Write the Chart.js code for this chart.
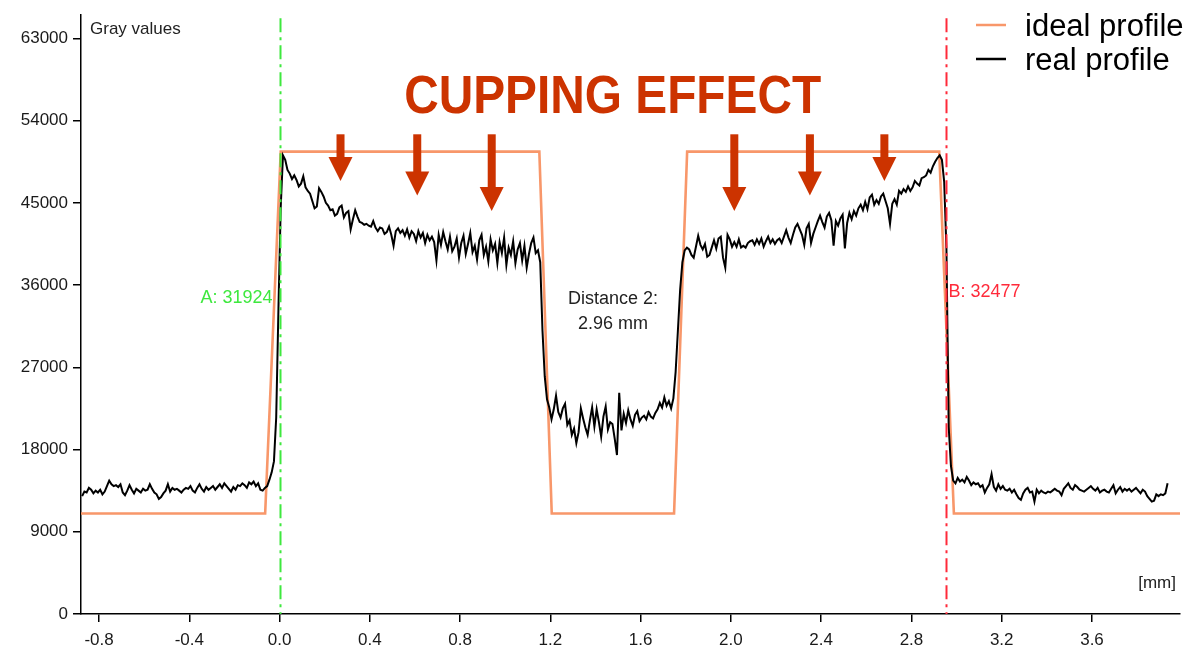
<!DOCTYPE html>
<html><head><meta charset="utf-8">
<script src="https://cdn.jsdelivr.net/npm/chart.js@4.4.1/dist/chart.umd.min.js"></script>
<style>html,body{margin:0;padding:0;background:#fff;}canvas{display:block;}</style>
</head><body>
<canvas id="c" width="1200" height="652"></canvas>
<script>
// ---- data ----
const xTicks = [-0.8, -0.4, 0.0, 0.4, 0.8, 1.2, 1.6, 2.0, 2.4, 2.8, 3.2, 3.6];
const yTicks = [0, 9000, 18000, 27000, 36000, 45000, 54000, 63000];
const seriesNames = ['ideal profile', 'real profile'];

const idealX = [-0.88, -0.064, 0.005, 1.151, 1.206, 1.748, 1.806, 2.923, 2.988, 3.99];
const idealY = [11000, 11000, 50600, 50600, 11000, 11000, 50600, 50600, 11000, 11000];

// real profile sampled every 0.01 mm starting at -0.875 mm
const realStart = -0.875;
const realStep = 0.01;
const realY = [
 12900,13400,13300,13800,13600,13200,13500,13300,13600,13100,
 13400,14000,14600,14200,14000,14100,13900,14200,13300,13000,
 13500,14100,13600,13200,13700,13500,13300,13700,13500,13600,
 14200,13700,13300,13100,12600,12800,13200,13500,14200,13400,
 13800,13600,13700,13500,13300,13600,13800,13700,14000,13500,
 13300,13800,14200,13700,13400,13900,13600,13800,14000,13600,
 13900,14200,13800,14300,14000,13700,13400,13900,13600,14100,
 14000,14300,14100,13800,14400,14200,14500,14000,14300,13600,
 13500,13800,14000,14700,15500,16700,21500,33500,44500,50200,
 49700,48600,48200,47600,48000,47500,46800,47100,47900,46700,
 46300,46000,45200,44400,44600,46600,46200,45700,45000,44700,
 44200,44300,43600,43800,44500,44700,43400,43900,44100,42100,
 43200,44200,43500,42900,42800,42600,42700,42500,42400,43000,
 42300,41900,42300,42200,41600,41800,42400,41500,40300,41900,
 42200,41700,42000,41400,42100,41200,41900,41600,40800,41900,
 41200,41700,40600,41500,40900,41300,40700,38700,41500,40400,
 41800,40800,39900,41300,39700,40200,41100,39000,40600,41400,
 39400,40500,41700,39600,40300,38800,40900,41500,39300,40200,
 38600,41000,39800,40500,38400,40700,39500,41200,38200,40100,
 39300,40800,38400,39900,40600,38700,40300,37900,39400,40600,
 41200,39500,39800,38500,31000,26000,23500,22600,21300,22400,
 23900,22100,21500,22500,23000,20700,21200,19600,20300,18700,
 19900,22500,21400,20400,19600,21200,22600,20500,22400,21000,
 19400,21600,22700,20200,21000,20800,19200,17400,24200,20100,
 21900,20900,22300,21300,20600,21800,22200,21100,21500,21700,
 21300,22100,21600,21400,22000,22400,23100,22600,23700,22800,
 23300,22500,23600,26500,31000,35500,38500,39800,40100,39900,
 39300,39000,40200,41400,40400,39900,40500,39100,39300,40100,
 40900,40000,41100,41300,39000,37900,41500,41000,40200,40700,
 40200,41000,40100,40300,40100,40600,40800,40900,40400,41000,
 40500,41100,40200,40800,41300,40600,41000,40500,40900,41100,
 40600,41300,42000,41200,40600,41500,42300,42700,42100,41500,
 40400,42200,42700,40600,41600,42300,43000,43600,42900,42300,
 43500,43900,43100,40300,43000,42500,43300,43700,40000,42800,
 43900,43200,44100,43600,44400,44800,44200,45100,44300,45600,
 45900,44800,45300,44900,45700,46000,45200,44400,42700,44900,
 45400,44800,46300,46000,46500,46200,46800,46300,46700,47400,
 47100,46900,47700,47800,48000,48600,48300,49000,49500,49900,
 50200,49700,47300,40000,20500,16200,14600,14300,14900,14500,
 14700,14400,15000,14600,14100,14400,14200,14300,13900,14100,
 13300,13800,14200,15300,13900,13500,14200,13700,14000,13600,
 13500,13700,13300,13600,13100,12700,12500,13200,13600,13800,
 13300,13400,12300,13600,13200,13500,13300,13200,13400,13300,
 13500,13700,13500,13400,13000,13700,14000,14300,13800,13600,
 14100,13900,13600,13500,13400,13600,13800,14000,13700,13500,
 13800,13300,13500,13600,13400,13300,13700,14100,13200,13600,
 13900,13400,13700,13500,13700,13400,13600,13800,13500,13200,
 13600,13400,12900,12600,12300,12400,13100,12900,13100,13000,
 13200,14300
];

// annotations (data coordinates)
const markerX = [0.0, 2.955];
const markerLabels = ['A: 31924', 'B: 32477'];
const markerLabelY = [34600, 35200];
const markerColors = ['#3ee83e', '#ff2a3a'];
const distanceLines = ['Distance 2:', '2.96 mm'];
const distanceLineY = [34500, 31700];
const arrowX = [0.27, 0.61, 0.94, 2.015, 2.35, 2.68];
const arrowTipY = [47400, 45800, 44100, 44100, 45800, 47400];
const arrowTopY = 52500;
const titleText = 'CUPPING EFFECT';
const titleX = 1.476;
const titleY = 56400;
const yAxisTitle = 'Gray values';
const xAxisTitle = '[mm]';

const FONT = "'Liberation Sans', Arial, sans-serif";
const idealColor = '#f8976a';
const arrowColor = '#cc3300';

const annot = {
  id: 'annot',
  afterDatasetsDraw(chart) {
    const {ctx, chartArea: ca} = chart;
    const x = chart.scales.x, y = chart.scales.y;
    ctx.save();
    // marker lines
    markerX.forEach((mx, i) => {
      const px = Math.round(x.getPixelForValue(mx)) + 0.5;
      ctx.beginPath();
      ctx.setLineDash([14, 5, 3, 5]);
      ctx.strokeStyle = markerColors[i];
      ctx.lineWidth = 2;
      ctx.moveTo(px, ca.top + 3);
      ctx.lineTo(px, ca.bottom);
      ctx.stroke();
    });
    ctx.setLineDash([]);
    // marker labels
    ctx.font = '18px ' + FONT;
    ctx.textBaseline = 'middle';
    ctx.fillStyle = markerColors[0];
    ctx.textAlign = 'right';
    ctx.fillText(markerLabels[0], x.getPixelForValue(markerX[0]) - 7, y.getPixelForValue(markerLabelY[0]));
    ctx.fillStyle = markerColors[1];
    ctx.textAlign = 'left';
    ctx.fillText(markerLabels[1], x.getPixelForValue(markerX[1]) + 2, y.getPixelForValue(markerLabelY[1]));
    // distance text
    ctx.fillStyle = '#222';
    ctx.textAlign = 'center';
    const dx = x.getPixelForValue((markerX[0] + markerX[1]) / 2);
    distanceLines.forEach((t, i) => ctx.fillText(t, dx, y.getPixelForValue(distanceLineY[i])));
    // axis titles
    ctx.textAlign = 'left';
    ctx.font = '17px ' + FONT;
    ctx.fillText(yAxisTitle, ca.left + 9, ca.top + 14);
    ctx.textAlign = 'right';
    ctx.fillText(xAxisTitle, ca.right - 4, ca.bottom - 31);
    // arrows
    ctx.fillStyle = arrowColor;
    arrowX.forEach((ax, i) => {
      const px = x.getPixelForValue(ax);
      const tip = y.getPixelForValue(arrowTipY[i]);
      const top = y.getPixelForValue(arrowTopY);
      const headH = 24, headW = 24, shaftW = 8;
      ctx.fillRect(px - shaftW / 2, top, shaftW, tip - headH - top + 1);
      ctx.beginPath();
      ctx.moveTo(px - headW / 2, tip - headH);
      ctx.lineTo(px + headW / 2, tip - headH);
      ctx.lineTo(px, tip);
      ctx.closePath();
      ctx.fill();
    });
    // title
    ctx.font = 'bold 53px ' + FONT;
    ctx.textAlign = 'center';
    const tw = ctx.measureText(titleText).width;
    const sx = 417 / tw;
    ctx.translate(x.getPixelForValue(titleX), y.getPixelForValue(titleY));
    ctx.scale(sx, 1);
    ctx.fillText(titleText, 0, 0);
    ctx.setTransform(1, 0, 0, 1, 0, 0);
    // legend
    const legColors = [idealColor, '#000'];
    const legY = [25, 59];
    ctx.font = '31px ' + FONT;
    ctx.textAlign = 'left';
    ctx.textBaseline = 'middle';
    seriesNames.forEach((n, i) => {
      ctx.beginPath();
      ctx.strokeStyle = legColors[i];
      ctx.lineWidth = 2.5;
      ctx.moveTo(976, legY[i]);
      ctx.lineTo(1006, legY[i]);
      ctx.stroke();
      ctx.fillStyle = '#000';
      ctx.fillText(n, 1025, legY[i] + 2);
    });
    ctx.restore();
  }
};

const ctx = document.getElementById('c').getContext('2d');
new Chart(ctx, {
  type: 'line',
  data: {
    datasets: [
      {label: seriesNames[0], data: idealX.map((v, i) => ({x: v, y: idealY[i]})),
       borderColor: idealColor, borderWidth: 2.6, pointRadius: 0, tension: 0, order: 1},
      {label: seriesNames[1], data: realY.map((v, i) => ({x: realStart + i * realStep, y: v})),
       borderColor: '#000', borderWidth: 2, pointRadius: 0, tension: 0, order: 0}
    ]
  },
  options: {
    responsive: false, animation: false, devicePixelRatio: 1,
    layout: {padding: {top: 13, right: 20, left: 0, bottom: 0}},
    plugins: {legend: {display: false}, tooltip: {enabled: false}},
    scales: {
      x: {
        type: 'linear', min: -0.88, max: 3.99,
        afterBuildTicks: s => { s.ticks = xTicks.map(v => ({value: v})); },
        afterFit: s => { s.height = 38; },
        ticks: {callback: v => Number(v).toFixed(1), font: {family: FONT, size: 17}, color: '#1a1a1a', padding: 8, maxRotation: 0, autoSkip: false},
        grid: {drawOnChartArea: false, tickLength: 8, color: '#000', lineWidth: 1.5},
        border: {color: '#000', width: 1.5}
      },
      y: {
        type: 'linear', min: 0, max: 65535,
        afterBuildTicks: s => { s.ticks = yTicks.map(v => ({value: v})); },
        afterFit: s => { s.width = 81; },
        ticks: {callback: v => String(v), font: {family: FONT, size: 17}, color: '#1a1a1a', padding: 5, autoSkip: false},
        grid: {drawOnChartArea: false, tickLength: 8, color: '#000', lineWidth: 1.5},
        border: {color: '#000', width: 1.5}
      }
    }
  },
  plugins: [annot]
});
</script>
</body></html>
